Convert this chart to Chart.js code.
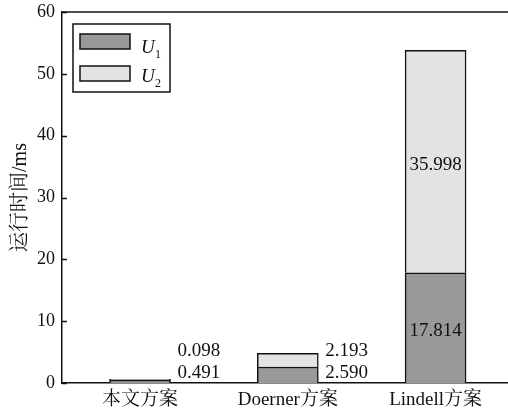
<!DOCTYPE html>
<html><head><meta charset="utf-8">
<script src="https://cdn.jsdelivr.net/npm/chart.js@4"></script>
<style>html,body{margin:0;padding:0;background:#fff}#wrap{width:508px;height:413px}</style>
</head><body><div id="wrap"><canvas id="c" width="508" height="413"></canvas></div>
<script>
const categories = ['本文方案', 'Doerner方案', 'Lindell方案'];
const seriesU1 = [0.491, 2.590, 17.814];
const seriesU2 = [0.098, 2.193, 35.998];
const seriesNames = ['U', 'U'];
const seriesSubs = ['1', '2'];
const yTicks = [0, 10, 20, 30, 40, 50, 60];

const SERIF = '"Liberation Serif", "Times New Roman", "Noto Serif CJK SC", "Noto Sans CJK SC", serif';
const C_U1 = '#999999', C_U2 = '#e3e3e3', INK = '#111111';

const decor = {
  id: 'decor',
  afterDatasetsDraw(chart) {
    const ctx = chart.ctx, ca = chart.chartArea, y = chart.scales.y;
    ctx.save();
    // top frame line
    ctx.strokeStyle = INK; ctx.lineWidth = 1.5;
    ctx.beginPath(); ctx.moveTo(ca.left, ca.top); ctx.lineTo(chart.width, ca.top); ctx.stroke();
    // inward ticks
    yTicks.forEach(v => {
      const py = Math.round(y.getPixelForValue(v)) + 0.5;
      ctx.beginPath(); ctx.moveTo(ca.left, py); ctx.lineTo(ca.left + 5, py); ctx.stroke();
    });
    // data labels
    const m0 = chart.getDatasetMeta(0), m1 = chart.getDatasetMeta(1);
    const base = y.getPixelForValue(0);
    ctx.font = '19px ' + SERIF; ctx.fillStyle = INK; ctx.textBaseline = 'middle';
    categories.forEach((c, i) => {
      const b0 = m0.data[i], b1 = m1.data[i];
      const totalH = base - b1.y;
      if (totalH < 40) {
        ctx.textAlign = 'left';
        const x = b0.x + b0.width / 2 + 7;
        ctx.fillText(seriesU1[i].toFixed(3), x, base - 9.5);
        ctx.fillText(seriesU2[i].toFixed(3), x, base - 31.5);
      } else {
        ctx.textAlign = 'center';
        ctx.fillText(seriesU1[i].toFixed(3), b0.x, (b0.y + b0.base) / 2 + 3);
        ctx.fillText(seriesU2[i].toFixed(3), b1.x, (b1.y + b1.base) / 2 + 3);
      }
    });
    // legend
    ctx.lineWidth = 1.5; ctx.strokeStyle = INK;
    ctx.fillStyle = '#fff';
    ctx.fillRect(73, 24, 97, 68);
    ctx.strokeRect(73, 24, 97, 68);
    const cols = [C_U1, C_U2];
    const rowsY = [34, 66];
    const baseU = [53, 82];
    seriesNames.forEach((n, k) => {
      ctx.fillStyle = cols[k];
      ctx.fillRect(80, rowsY[k], 50, 15);
      ctx.strokeRect(80, rowsY[k], 50, 15);
      ctx.fillStyle = INK; ctx.textAlign = 'left'; ctx.textBaseline = 'alphabetic';
      ctx.font = 'italic 19px ' + SERIF;
      ctx.fillText(n, 141, baseU[k]);
      ctx.font = '12px ' + SERIF;
      ctx.fillText(seriesSubs[k], 155, baseU[k] + 5);
    });
    ctx.restore();
  }
};

new Chart(document.getElementById('c'), {
  type: 'bar',
  data: {
    datasets: [
      { label: 'U1', data: seriesU1.map((v, i) => ({ x: i, y: v })), backgroundColor: C_U1, borderColor: INK, borderWidth: 1.5, barThickness: 61, stack: 's' },
      { label: 'U2', data: seriesU2.map((v, i) => ({ x: i, y: v })), backgroundColor: C_U2, borderColor: INK, borderWidth: 1.5, barThickness: 61, stack: 's' }
    ]
  },
  options: {
    responsive: false, animation: false, devicePixelRatio: 1,
    layout: { padding: { top: 12, left: 0, right: 0, bottom: 0 } },
    plugins: { legend: { display: false }, tooltip: { enabled: false } },
    scales: {
      x: {
        type: 'linear', min: -0.528, max: 2.49, offset: false,
        afterBuildTicks: s => { s.ticks = categories.map((c, i) => ({ value: i })); },
        ticks: { callback: v => categories[v], font: { family: SERIF, size: 19 }, color: INK, padding: 6, maxRotation: 0, autoSkip: false },
        grid: { display: false, drawTicks: false, tickLength: 0 },
        border: { display: true, color: INK, width: 1.5 },
        afterFit: s => { s.height = 30; s.paddingLeft = 0; s.paddingRight = 0; }
      },
      y: {
        stacked: true, min: 0, max: 60,
        afterBuildTicks: s => { s.ticks = yTicks.map(v => ({ value: v })); },
        ticks: { font: { family: SERIF, size: 18 }, color: INK, padding: 7 },
        grid: { display: false, drawTicks: false, tickLength: 0 },
        border: { display: true, color: INK, width: 1.5 },
        title: { display: true, text: '运行时间/ms', font: { family: SERIF, size: 20 }, color: INK, padding: { top: 9, bottom: 0 } },
        afterFit: s => { s.width = 62; s.paddingTop = 0; s.paddingBottom = 0; }
      }
    }
  },
  plugins: [decor]
});
</script>
</body></html>
